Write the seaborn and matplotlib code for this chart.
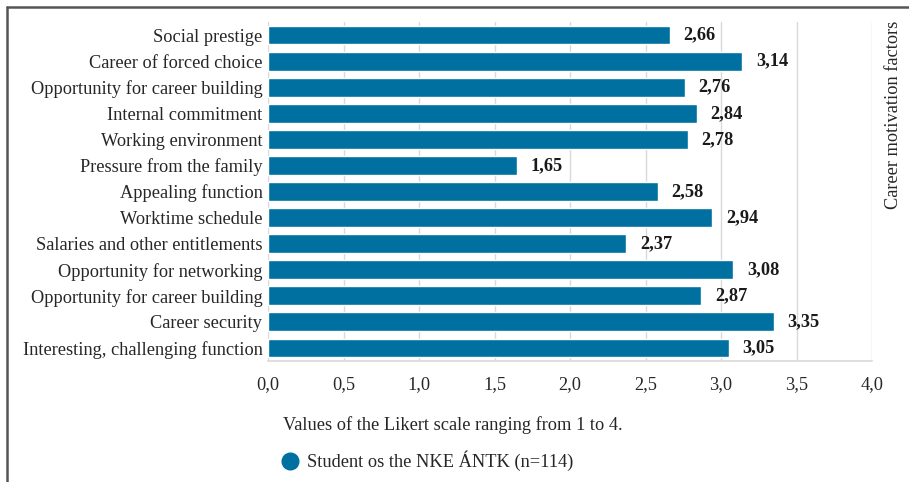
import matplotlib
matplotlib.use("Agg")
import matplotlib.pyplot as plt
from matplotlib.lines import Line2D
import seaborn as sns
import pandas as pd

categories = [
    "Social prestige",
    "Career of forced choice",
    "Opportunity for career building",
    "Internal commitment",
    "Working environment",
    "Pressure from the family",
    "Appealing function",
    "Worktime schedule",
    "Salaries and other entitlements",
    "Opportunity for networking",
    "Opportunity for career building",
    "Career security",
    "Interesting, challenging function",
]
values = [2.66, 3.14, 2.76, 2.84, 2.78, 1.65, 2.58, 2.94, 2.37, 3.08, 2.87, 3.35, 3.05]
x_ticks = [0.0, 0.5, 1.0, 1.5, 2.0, 2.5, 3.0, 3.5, 4.0]
series_name = "Student os the NKE ÁNTK (n=114)"
x_title = "Values of the Likert scale ranging from 1 to 4."
y_title = "Career motivation factors"

BAR = "#0070a0"
TXT = "#262626"
GRID = "#d9d9d9"
FS = 13.25

sns.set_theme(style="white")
plt.rcParams["font.family"] = ["Liberation Serif", "DejaVu Serif"]

df = pd.DataFrame({"key": [str(i) for i in range(len(categories))],
                   "value": values})

fig = plt.figure(figsize=(9.09, 4.82), dpi=100)
ax = fig.add_axes([268 / 909, 1 - 361 / 482, (872 - 268) / 909, (361 - 22) / 482])

sns.barplot(data=df, x="value", y="key", order=df["key"].tolist(), orient="h",
            color=BAR, saturation=1, width=0.72, ax=ax)

ax.set_xlim(0, 4)
ax.set_ylim(len(categories) - 0.5, -0.5)
ax.set_xticks(x_ticks)
ax.set_xticklabels([f"{t:.1f}".replace(".", ",") for t in x_ticks])
ax.set_yticks(range(len(categories)))
ax.set_yticklabels(categories)
ax.tick_params(axis="x", length=0, pad=11, labelsize=FS, labelcolor=TXT)
ax.tick_params(axis="y", length=0, pad=4, labelsize=FS, labelcolor=TXT)
ax.set_xlabel("")
ax.set_ylabel("")
ax.set_axisbelow(True)
ax.xaxis.grid(True, color=GRID, linewidth=1)
ax.yaxis.grid(False)
for s in ["top", "right", "left"]:
    ax.spines[s].set_visible(False)
ax.spines["bottom"].set_color(GRID)
ax.spines["bottom"].set_linewidth(1.2)

for i, v in enumerate(values):
    ax.annotate(f"{v:.2f}".replace(".", ","), xy=(v, i), xytext=(10, 0),
                textcoords="offset points", ha="left", va="center",
                fontsize=FS, fontweight="bold", color="#1a1a1a")

fig.text(893 / 909, 1 - 115 / 482, y_title, rotation=90, ha="center", va="center",
         fontsize=FS, color=TXT)
fig.text(283 / 909, 1 - 425 / 482, x_title, ha="left", va="center",
         fontsize=FS, color=TXT)

handle = Line2D([], [], marker="o", linestyle="", color=BAR, markersize=12)
fig.legend(handles=[handle], labels=[series_name], loc="center left",
           bbox_to_anchor=(281 / 909, 1 - 461 / 482), frameon=False,
           handlelength=1.0, handletextpad=0.4, borderaxespad=0, borderpad=0,
           prop={"size": FS}, labelcolor=TXT)

# figure frame (top and left edges visible)
fig.add_artist(Line2D([7 / 909, 7 / 909], [0, 1 - 7 / 482], transform=fig.transFigure,
                      color="#555555", linewidth=1.8))
fig.add_artist(Line2D([7 / 909, 1], [1 - 7 / 482, 1 - 7 / 482], transform=fig.transFigure,
                      color="#555555", linewidth=1.8))

fig.savefig("out.png", dpi=100)
